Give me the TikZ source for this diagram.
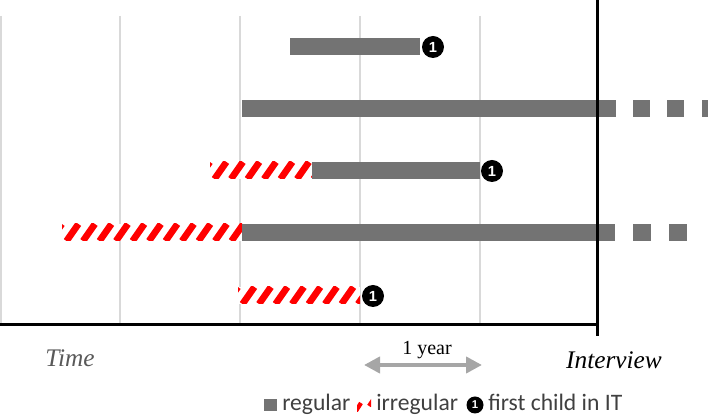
\documentclass[tikz,border=0pt]{standalone}
\usepackage{fontspec}
\setmainfont{Liberation Serif}
\setsansfont{Liberation Sans}
\newfontfamily\legendfont{Carlito}
\usetikzlibrary{arrows.meta, positioning}

\definecolor{bargray}{HTML}{737373}
\definecolor{gridgray}{HTML}{D9D9D9}
\definecolor{hatchred}{HTML}{FF0000}
\definecolor{spangray}{HTML}{A6A6A6}
\definecolor{labelgray}{HTML}{595959}
\definecolor{legendgray}{HTML}{404040}

% hatched (irregular) bar: left, right, top, height
\newcommand{\hatchbar}[4]{%
  \begin{scope}
    \clip (#1,#3) rectangle (#2,#3+#4);
    \fill[white] (#1,#3) rectangle (#2,#3+#4);
    \pgfmathtruncatemacro{\nstripes}{(#2-#1)/16.5+2}
    \foreach \k in {0,...,\nstripes}
      \draw[stripe] ({#1-12+16.5*\k},#3+#4) -- ++({0.7*#4},-#4);
  \end{scope}}

\begin{document}
\begin{tikzpicture}[
    x=0.75pt, y=-0.75pt,
    gridline/.style={gridgray, line width=1.5pt},
    regular/.style={fill=bargray},
    stripe/.style={hatchred, line width=5pt},
    firstchild/.style={circle, fill=black, text=white, inner sep=0pt, minimum size=16.5pt, font=\sffamily\bfseries\fontsize{11}{11}\selectfont},
    axisline/.style={black, line width=2.25pt},
    timelabel/.style={font=\itshape\fontsize{19}{22}\selectfont},
    legtext/.style={font=\legendfont\fontsize{17.7}{20}\selectfont, text=legendgray, inner sep=0pt, anchor=base west},
    span/.style={spangray, line width=3pt, {Triangle[length=12pt, width=12pt]}-{Triangle[length=12pt, width=12pt]}}
]
    \useasboundingbox (0,0) rectangle (708,416);

    % grid
    \foreach \gx in {1,120,240,360,480}
        \draw[gridline] (\gx,16) -- (\gx,325);

    % bars
    \fill[regular] (290,38) rectangle (420,55);
    \node[firstchild] (child1) at (433,47) {1};

    \fill[regular] (242,100) rectangle (616,117);
    \foreach \d in {633,667}
        \fill[regular] (\d,100) rectangle ++(17,17);
    \fill[regular] (702,100) rectangle (708,117);

    \hatchbar{210}{312}{162}{17}
    \fill[regular] (312,162) rectangle (480,179);
    \node[firstchild] (child3) at (492,171) {1};

    \hatchbar{62}{242}{224}{17}
    \fill[regular] (242,224) rectangle (615,241);
    \foreach \d in {633,669}
        \fill[regular] (\d,224) rectangle ++(18,17);

    \hatchbar{238}{360}{287}{17}
    \node[firstchild] (child5) at (373,296) {1};

    % axes
    \draw[axisline] (0,325) -- (598,325);
    \draw[axisline] (597,0) -- (597,336);

    % labels
    \node[timelabel, text=labelgray] (time) at (70,358) {Time};
    \node[timelabel] (interview) at (614,360) {Interview};
    \node[font=\fontsize{15}{18}\selectfont] (year) at (427,350) {1 year};
    \coordinate (yearL) at (364,365);
    \coordinate (yearR) at (482,365);
    \draw[span] (yearL) -- (yearR);

    % legend
    \fill[regular] (264,399) rectangle (277,411);
    \node[legtext] (legreg) at (282,411) {regular};
    \begin{scope}
        \clip (357,400) rectangle (371,412);
        \draw[stripe, line width=3.2pt] (354,414) -- (361,403);
        \draw[stripe, line width=3.2pt] (369,406) -- (375,397);
    \end{scope}
    \node[legtext] (legirr) at (376,411) {irregular};
    \node[firstchild, minimum size=12.75pt, font=\sffamily\bfseries\fontsize{8.5}{8.5}\selectfont] (legchild) at (475,405) {1};
    \node[legtext] (legfirst) at (488,411) {first child in IT};
\end{tikzpicture}
\end{document}
